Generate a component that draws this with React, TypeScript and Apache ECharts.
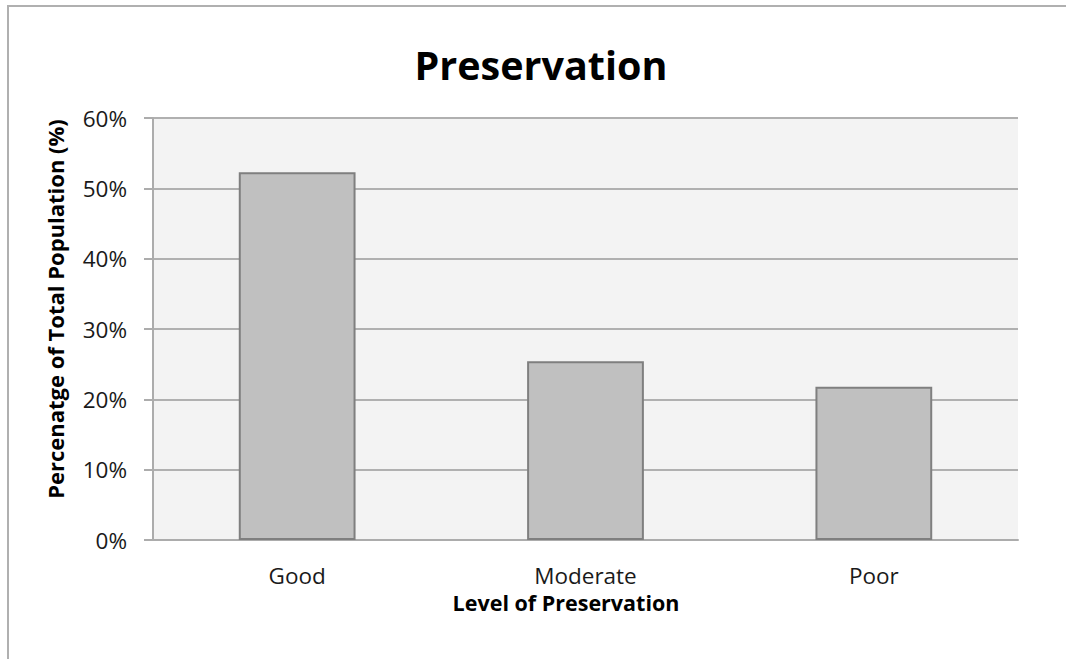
import React, { useEffect, useRef } from "react";
import * as echarts from "echarts";

const categories = ["Good", "Moderate", "Poor"];
const shares = [52.3, 25.4, 21.8];
const yTicks = { min: 0, max: 60, interval: 10 };

const chartTitle = "Preservation";
const xTitle = "Level of Preservation";
const yTitle = "Percenatge of Total Population (%)";

const FONT = "'Open Sans', 'Noto Sans', sans-serif";

export default function App() {
  const ref = useRef<HTMLDivElement>(null);

  useEffect(() => {
    if (!ref.current) return;
    document.body.style.overflow = "hidden";
    const chart = echarts.init(ref.current, undefined, { renderer: "svg" });
    chart.setOption({
      animation: false,
      backgroundColor: "#ffffff",
      textStyle: { fontFamily: FONT },
      grid: {
        left: 153,
        right: 48,
        top: 118,
        bottom: 119,
        show: true,
        backgroundColor: "#f3f3f3",
        borderWidth: 0,
      },
      xAxis: {
        type: "category",
        data: categories,
        axisLine: { lineStyle: { color: "#acacac", width: 2 } },
        axisTick: { show: false },
        axisLabel: {
          fontFamily: FONT,
          fontSize: 22.5,
          lineHeight: 22,
          color: "#1a1a1a",
          margin: 24,
        },
        splitLine: { show: false },
      },
      yAxis: {
        type: "value",
        min: yTicks.min,
        max: yTicks.max,
        interval: yTicks.interval,
        axisLine: { show: true, lineStyle: { color: "#acacac", width: 2 } },
        axisTick: { show: true, length: 9, lineStyle: { color: "#acacac", width: 2 } },
        axisLabel: {
          fontFamily: FONT,
          fontSize: 22.5,
          color: "#1a1a1a",
          margin: 26,
          formatter: "{value}%",
        },
        splitLine: { show: true, lineStyle: { color: "#b0b0b0", width: 2 } },
      },
      series: [
        {
          type: "bar",
          data: shares,
          barWidth: "40.5%",
          itemStyle: { color: "#c0c0c0", borderColor: "#7f7f7f", borderWidth: 2 },
        },
      ],
      graphic: [
        {
          type: "line",
          shape: { x1: 7, y1: 6, x2: 1066, y2: 6 },
          style: { stroke: "#b0b0b0", lineWidth: 2 },
          silent: true,
        },
        {
          type: "line",
          shape: { x1: 8, y1: 5, x2: 8, y2: 659 },
          style: { stroke: "#b0b0b0", lineWidth: 2 },
          silent: true,
        },
        {
          type: "text",
          x: 541,
          y: 65,
          style: {
            text: chartTitle,
            fontFamily: FONT,
            fontSize: 39.5,
            fontWeight: "bold",
            fill: "#000",
            align: "center",
            verticalAlign: "middle",
          },
        },
        {
          type: "text",
          x: 566,
          y: 602,
          style: {
            text: xTitle,
            fontFamily: FONT,
            fontSize: 21.5,
            lineHeight: 22,
            fontWeight: "bold",
            fill: "#000",
            align: "center",
            verticalAlign: "middle",
          },
        },
        {
          type: "text",
          x: 55,
          y: 309,
          rotation: Math.PI / 2,
          style: {
            text: yTitle,
            fontFamily: FONT,
            fontSize: 22,
            fontWeight: "bold",
            fill: "#000",
            align: "center",
            verticalAlign: "middle",
          },
        },
      ],
    });
    return () => chart.dispose();
  }, []);

  return (
    <div
      ref={ref}
      style={{ position: "fixed", left: 0, top: 0, width: 1066, height: 659 }}
    />
  );
}
